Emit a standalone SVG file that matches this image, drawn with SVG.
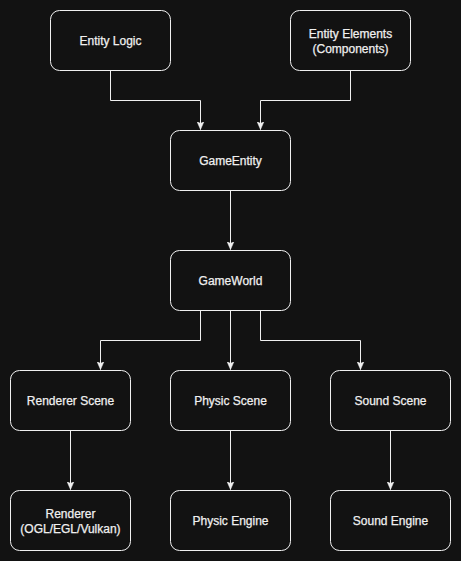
<svg xmlns="http://www.w3.org/2000/svg" width="461" height="561" viewBox="0 0 461 561">
<style>
.node rect{fill:#121212;stroke:#f0f0f0;stroke-width:1}
.node text{fill:#f0f0f0;font-family:"Liberation Sans",Arial,sans-serif;font-size:12px;font-weight:normal;text-anchor:middle;stroke:#f0f0f0;stroke-width:0.25}
.edges path{fill:none;stroke:#f0f0f0;stroke-width:1;marker-end:url(#arr)}
</style>
<defs>
<marker id="arr" viewBox="0 0 8 8" refX="8" refY="4" markerWidth="8" markerHeight="8" orient="auto" markerUnits="userSpaceOnUse">
<path d="M0,0.5 L8,4 L0,7.5 L2,4 z" fill="#f0f0f0" stroke="#f0f0f0" stroke-width="0.5"/>
</marker>
</defs>
<rect width="461" height="561" fill="#121212"/>
<g class="edges">
<path d="M110.5,70.5 V100.5 H200.5 V129.5"/>
<path d="M350.5,70.5 V100.5 H260.5 V129.5"/>
<path d="M230.5,190.5 V249.5"/>
<path d="M200.5,310.5 V340.5 H100.5 V369.5"/>
<path d="M230.5,310.5 V369.5"/>
<path d="M260.5,310.5 V340.5 H360.5 V369.5"/>
<path d="M70.5,430.5 V489.5"/>
<path d="M230.5,430.5 V489.5"/>
<path d="M390.5,430.5 V489.5"/>
</g>
<g id="entity-logic" class="node"><rect x="50.5" y="10.5" width="120" height="60" rx="9"/><text x="110.5" y="45">Entity Logic</text></g>
<g id="entity-elements" class="node"><rect x="290.5" y="10.5" width="120" height="60" rx="9"/><text x="350.5" y="38">Entity Elements</text><text x="350.5" y="53">(Components)</text></g>
<g id="game-entity" class="node"><rect x="170.5" y="130.5" width="120" height="60" rx="9"/><text x="230.5" y="165">GameEntity</text></g>
<g id="game-world" class="node"><rect x="170.5" y="250.5" width="120" height="60" rx="9"/><text x="230.5" y="285">GameWorld</text></g>
<g id="renderer-scene" class="node"><rect x="10.5" y="370.5" width="120" height="60" rx="9"/><text x="70.5" y="405">Renderer Scene</text></g>
<g id="physic-scene" class="node"><rect x="170.5" y="370.5" width="120" height="60" rx="9"/><text x="230.5" y="405">Physic Scene</text></g>
<g id="sound-scene" class="node"><rect x="330.5" y="370.5" width="120" height="60" rx="9"/><text x="390.5" y="405">Sound Scene</text></g>
<g id="renderer" class="node"><rect x="10.5" y="490.5" width="120" height="60" rx="9"/><text x="70.5" y="518">Renderer</text><text x="70.5" y="533">(OGL/EGL/Vulkan)</text></g>
<g id="physic-engine" class="node"><rect x="170.5" y="490.5" width="120" height="60" rx="9"/><text x="230.5" y="525">Physic Engine</text></g>
<g id="sound-engine" class="node"><rect x="330.5" y="490.5" width="120" height="60" rx="9"/><text x="390.5" y="525">Sound Engine</text></g>
</svg>
